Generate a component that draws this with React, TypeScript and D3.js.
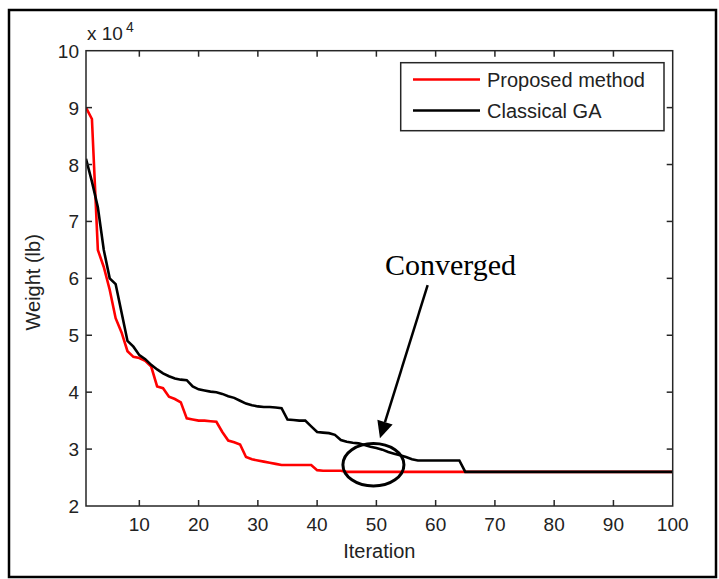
import React from 'react';
import * as d3 from 'd3';

// weight in units of 1e4 lb, one value per iteration (1..100)
const proposed = [
  9.0, 8.8, 6.5, 6.2, 5.8, 5.3, 5.05, 4.72, 4.62, 4.6,
  4.55, 4.45, 4.1, 4.07, 3.92, 3.88, 3.82, 3.54, 3.52, 3.5,
  3.5, 3.49, 3.48, 3.3, 3.15, 3.12, 3.08, 2.86, 2.82, 2.8,
  2.78, 2.76, 2.74, 2.72, 2.72, 2.72, 2.72, 2.72, 2.72, 2.63,
  2.62, 2.62, 2.62, 2.62, 2.6, 2.6, 2.6, 2.6, 2.6, 2.6,
  2.6, 2.6, 2.6, 2.6, 2.6, 2.6, 2.6, 2.6, 2.6, 2.6,
  2.6, 2.6, 2.6, 2.6, 2.6, 2.6, 2.6, 2.6, 2.6, 2.6,
  2.6, 2.6, 2.6, 2.6, 2.6, 2.6, 2.6, 2.6, 2.6, 2.6,
  2.6, 2.6, 2.6, 2.6, 2.6, 2.6, 2.6, 2.6, 2.6, 2.6,
  2.6, 2.6, 2.6, 2.6, 2.6, 2.6, 2.6, 2.6, 2.6, 2.6,
];

const classical = [
  8.1, 7.7, 7.25, 6.5, 6.0, 5.9, 5.4, 4.9, 4.8, 4.65,
  4.58, 4.48, 4.4, 4.33, 4.28, 4.24, 4.22, 4.21, 4.1, 4.05,
  4.03, 4.01, 4.0, 3.97, 3.93, 3.9, 3.85, 3.8, 3.77, 3.75,
  3.74, 3.74, 3.73, 3.72, 3.52, 3.51, 3.5, 3.5, 3.4, 3.3,
  3.29, 3.28, 3.25, 3.16, 3.13, 3.11, 3.1, 3.07, 3.04, 3.02,
  2.99, 2.95, 2.92, 2.89, 2.86, 2.82, 2.8, 2.8, 2.8, 2.8,
  2.8, 2.8, 2.8, 2.8, 2.6, 2.6, 2.6, 2.6, 2.6, 2.6,
  2.6, 2.6, 2.6, 2.6, 2.6, 2.6, 2.6, 2.6, 2.6, 2.6,
  2.6, 2.6, 2.6, 2.6, 2.6, 2.6, 2.6, 2.6, 2.6, 2.6,
  2.6, 2.6, 2.6, 2.6, 2.6, 2.6, 2.6, 2.6, 2.6, 2.6,
];

const xTicks = [10, 20, 30, 40, 50, 60, 70, 80, 90, 100];
const yTicks = [2, 3, 4, 5, 6, 7, 8, 9, 10];
const seriesNames = ['Proposed method', 'Classical GA'];
const seriesColors = ['#ff0000', '#000000'];

const W = 719;
const H = 579;
const plot = { left: 86, right: 672.7, top: 50.7, bottom: 506 };
const tickLen = 6;
const font = 'Liberation Sans, Arial, sans-serif';

export default function App() {
  const x = d3.scaleLinear().domain([1, 100]).range([plot.left, plot.right]);
  const y = d3.scaleLinear().domain([2, 10]).range([plot.bottom, plot.top]);

  const line = d3.line<number>()
    .x((_, i) => x(i + 1))
    .y(d => y(d));

  const series = [proposed, classical];

  // annotation anchors in data coordinates
  const ell = { cx: x(49.5), cy: y(2.725), rx: x(1 + 5.15) - x(1), ry: y(2) - y(2.374) };
  const tail = [x(58.65), y(5.88)];
  const tip = [x(50.6), y(3.19)];
  const ang = Math.atan2(tip[1] - tail[1], tip[0] - tail[0]);
  const headLen = 17;
  const headW = 8;
  const base = [tip[0] - headLen * Math.cos(ang), tip[1] - headLen * Math.sin(ang)];
  const p1 = [base[0] + headW * Math.sin(ang), base[1] - headW * Math.cos(ang)];
  const p2 = [base[0] - headW * Math.sin(ang), base[1] + headW * Math.cos(ang)];

  const legend = { x: 400.7, y: 62.7, w: 263.3, h: 68 };

  return (
    <svg width={W} height={H} style={{ position: 'absolute', left: 0, top: 0, background: '#fff' }}>
      <rect x={0} y={0} width={W} height={H} fill="#fff" />
      <rect x={9} y={10} width={707} height={567} fill="none" stroke="#000" strokeWidth={2.5} />

      {/* curves */}
      <g clipPath="url(#plotclip)">
        {series.map((s, k) => (
          <path key={k} d={line(s) || ''} fill="none" stroke={seriesColors[k]} strokeWidth={2.6} strokeLinejoin="miter" />
        ))}
      </g>
      <defs>
        <clipPath id="plotclip">
          <rect x={plot.left} y={plot.top} width={plot.right - plot.left} height={plot.bottom - plot.top} />
        </clipPath>
      </defs>

      {/* axes box */}
      <rect x={plot.left} y={plot.top} width={plot.right - plot.left} height={plot.bottom - plot.top}
        fill="none" stroke="#262626" strokeWidth={1.5} />

      {xTicks.map(t => (
        <g key={'x' + t}>
          {t < 100 && <line x1={x(t)} x2={x(t)} y1={plot.bottom} y2={plot.bottom - tickLen} stroke="#262626" strokeWidth={1.5} />}
          {t < 100 && <line x1={x(t)} x2={x(t)} y1={plot.top} y2={plot.top + tickLen} stroke="#262626" strokeWidth={1.5} />}
          <text x={x(t)} y={plot.bottom + 25} textAnchor="middle" fontFamily={font} fontSize={19} fill="#222">{t}</text>
        </g>
      ))}
      {yTicks.map(t => (
        <g key={'y' + t}>
          {t > 2 && t < 10 && <line x1={plot.left} x2={plot.left + tickLen} y1={y(t)} y2={y(t)} stroke="#262626" strokeWidth={1.5} />}
          {t > 2 && t < 10 && <line x1={plot.right} x2={plot.right - tickLen} y1={y(t)} y2={y(t)} stroke="#262626" strokeWidth={1.5} />}
          <text x={plot.left - 7} y={y(t) + 7} textAnchor="end" fontFamily={font} fontSize={19} fill="#222">{t}</text>
        </g>
      ))}

      {/* exponent */}
      <text x={87} y={40} fontFamily={font} fontSize={19} fill="#222">x 10</text>
      <text x={126} y={32} fontFamily={font} fontSize={14} fill="#222">4</text>

      {/* axis labels */}
      <text x={(plot.left + plot.right) / 2} y={558} textAnchor="middle" fontFamily={font} fontSize={20} fill="#222">Iteration</text>
      <text transform={`translate(40,${(plot.top + plot.bottom) / 2 + 4}) rotate(-90)`} textAnchor="middle"
        fontFamily={font} fontSize={20} fill="#222">Weight (lb)</text>

      {/* legend */}
      <rect x={legend.x} y={legend.y} width={legend.w} height={legend.h} fill="#fff" stroke="#262626" strokeWidth={1.5} />
      {seriesNames.map((n, k) => (
        <g key={n}>
          <line x1={413} x2={480} y1={79.5 + k * 31} y2={79.5 + k * 31} stroke={seriesColors[k]} strokeWidth={2.6} />
          <text x={487} y={87 + k * 31} fontFamily={font} fontSize={20} fill="#222">{n}</text>
        </g>
      ))}

      {/* annotation */}
      <ellipse cx={ell.cx} cy={ell.cy} rx={ell.rx} ry={ell.ry} fill="none" stroke="#000" strokeWidth={3} />
      <line x1={tail[0]} y1={tail[1]} x2={base[0]} y2={base[1]} stroke="#000" strokeWidth={2.5} />
      <polygon points={`${tip[0]},${tip[1]} ${p1[0]},${p1[1]} ${p2[0]},${p2[1]}`} fill="#000" />
      <text x={x(51.45)} y={y(6.06)} fontFamily="Liberation Serif, Times New Roman, serif" fontSize={30} fill="#000">Converged</text>
    </svg>
  );
}
